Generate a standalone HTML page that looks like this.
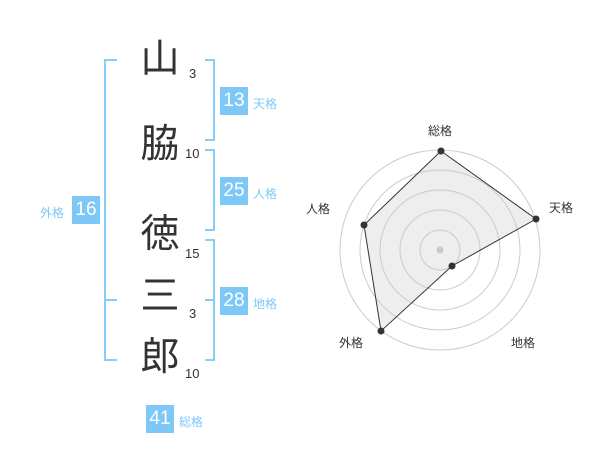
<!DOCTYPE html>
<html><head><meta charset="utf-8"><style>
body{margin:0;background:#fff;width:600px;height:470px;overflow:hidden;position:relative;font-family:"Liberation Sans","Noto Sans CJK JP",sans-serif}
.k{position:absolute;font-size:39px;color:#333;width:50px;text-align:center;line-height:40px}
.n{position:absolute;font-size:13px;color:#333}
.b{position:absolute;width:28px;height:28px;background:#7ec8f8;color:#fff;font-size:19px;line-height:28px;text-align:center}
.l{position:absolute;font-size:12px;color:#7ec8f8}
.s{position:absolute;font-size:12px;color:#333}
</style></head><body>
<svg width="600" height="470" style="position:absolute;left:0;top:0">
<g stroke="#86cdf8" stroke-width="2" fill="none">
<path d="M117 60H105V360H117M105 300H117"/>
<path d="M205 60H214V140H205"/>
<path d="M205 150H214V230H205"/>
<path d="M205 240H214V360H205M214 300H205"/>
</g>
<g fill="none" stroke="#ccc" stroke-width="1">
<circle cx="440" cy="250" r="20"/><circle cx="440" cy="250" r="40"/><circle cx="440" cy="250" r="60"/><circle cx="440" cy="250" r="80"/><circle cx="440" cy="250" r="100"/>
</g>
<circle cx="440" cy="250" r="3.5" fill="#ccc"/>
<polygon points="441,151 536,219 452,266 381,331 364,225" fill="rgba(200,200,200,0.3)" stroke="#333" stroke-width="1"/>
<g fill="#333"><circle cx="441" cy="151" r="3.5"/><circle cx="536" cy="219" r="3.5"/><circle cx="452" cy="266" r="3.5"/><circle cx="381" cy="331" r="3.5"/><circle cx="364" cy="225" r="3.5"/></g>
</svg>
<div class="k" style="left:135px;top:40px">山</div>
<div class="k" style="left:135px;top:125px">脇</div>
<div class="k" style="left:135px;top:215px">徳</div>
<div class="k" style="left:135px;top:277px">三</div>
<div class="k" style="left:135px;top:338px">郎</div>
<div class="n" style="left:189px;top:66px">3</div>
<div class="n" style="left:185px;top:146px">10</div>
<div class="n" style="left:185px;top:246px">15</div>
<div class="n" style="left:189px;top:306px">3</div>
<div class="n" style="left:185px;top:366px">10</div>
<div class="b" style="left:220px;top:87px">13</div><div class="l" style="left:253px;top:95px">天格</div>
<div class="b" style="left:220px;top:177px">25</div><div class="l" style="left:253px;top:185px">人格</div>
<div class="b" style="left:220px;top:287px">28</div><div class="l" style="left:253px;top:295px">地格</div>
<div class="b" style="left:72px;top:196px">16</div><div class="l" style="left:40px;top:204px">外格</div>
<div class="b" style="left:146px;top:405px">41</div><div class="l" style="left:179px;top:413px">総格</div>
<div class="s" style="left:428px;top:122px">総格</div>
<div class="s" style="left:549px;top:199px">天格</div>
<div class="s" style="left:511px;top:334px">地格</div>
<div class="s" style="left:339px;top:334px">外格</div>
<div class="s" style="left:306px;top:200px">人格</div>
</body></html>
